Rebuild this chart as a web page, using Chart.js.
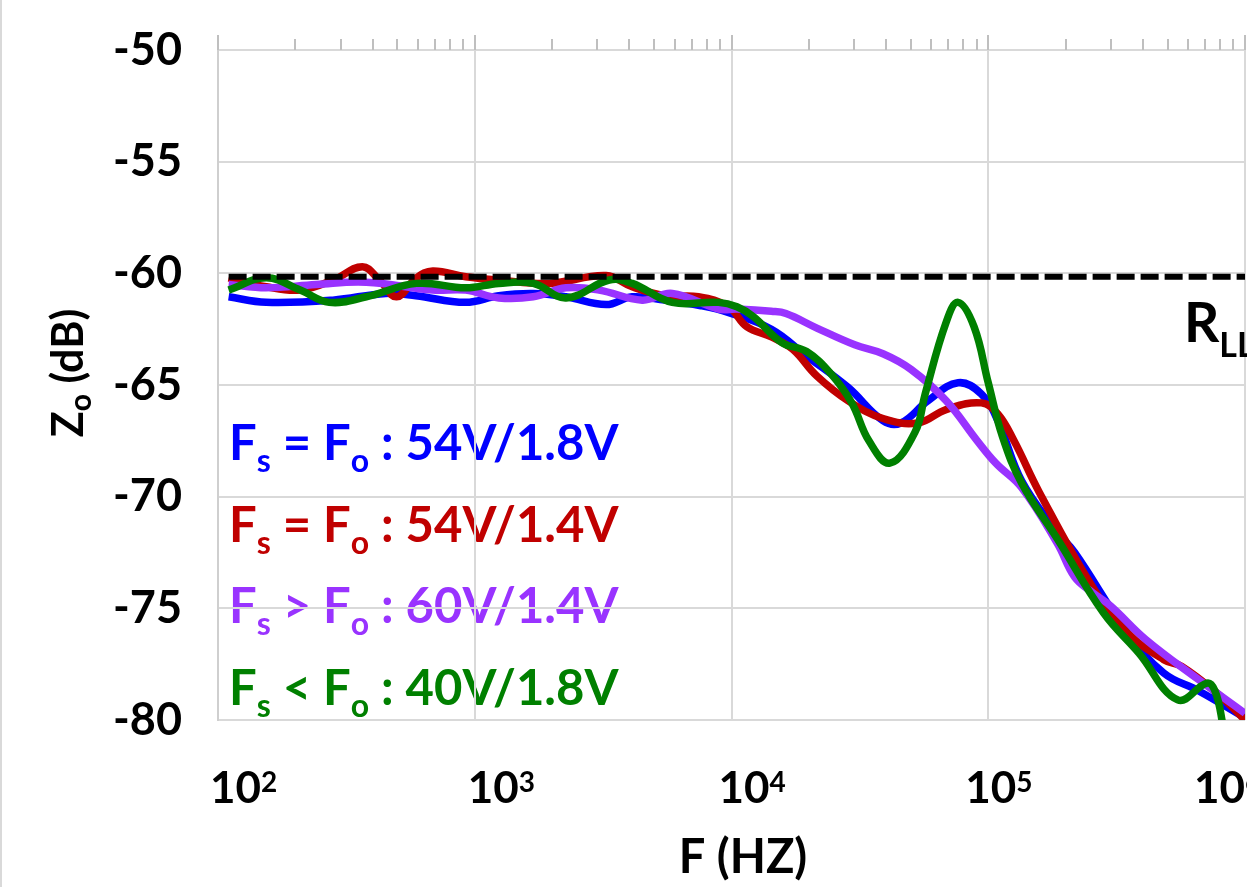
<!DOCTYPE html>
<html>
<head>
<meta charset="utf-8">
<script src="https://cdn.jsdelivr.net/npm/chart.js@4.4.0/dist/chart.umd.min.js"></script>
<style>
  html, body { margin: 0; padding: 0; background: #fff; }
  canvas { display: block; }
</style>
</head>
<body>
<canvas id="chart" width="1247" height="887"></canvas>
<script>
// frequency (Hz) / Zo (dB), one pair per curve
const blueFreq = [110, 154, 280, 450, 590, 920, 1240, 1690, 2270, 3250, 4100, 5500, 7600, 9700, 14300, 19600, 28400, 38900, 45700, 58300, 76300, 94000, 109000, 135000, 186000, 217000, 349000, 483000, 661000, 1000000];
const blueZo = [-61.05, -61.3, -61.2, -60.9, -61.0, -61.3, -61.0, -60.9, -61.05, -61.4, -61.05, -61.2, -61.45, -61.75, -62.5, -63.7, -65.1, -66.6, -66.7, -65.7, -64.9, -65.4, -66.6, -69.3, -71.6, -72.5, -76.1, -77.9, -78.7, -79.9];

const redFreq = [110, 154, 209, 281, 365, 425, 496, 593, 686, 922, 1240, 1950, 3250, 4100, 5500, 7430, 9730, 11500, 14300, 17300, 21500, 28400, 38900, 53300, 68500, 94000, 109000, 126000, 158000, 255000, 349000, 483000, 567000, 778000, 1000000];
const redZo = [-60.2, -60.6, -60.75, -60.3, -59.7, -60.3, -61.05, -60.2, -59.9, -60.15, -60.3, -60.45, -60.1, -60.6, -61.0, -61.05, -61.5, -62.4, -62.85, -63.4, -64.6, -65.7, -66.5, -66.7, -66.1, -65.8, -66.3, -67.5, -69.8, -74.05, -76.1, -77.3, -77.6, -78.8, -80];

const purpleFreq = [110, 154, 241, 378, 686, 922, 1240, 1690, 2270, 3050, 4490, 5880, 8900, 10500, 14300, 16300, 21500, 30200, 38900, 50000, 68500, 90600, 107000, 135000, 186000, 217000, 255000, 300000, 411000, 661000, 1000000];
const purpleZo = [-60.5, -60.65, -60.5, -60.4, -60.75, -60.75, -61.1, -61.05, -60.65, -60.75, -61.2, -60.9, -61.6, -61.6, -61.7, -61.8, -62.45, -63.2, -63.6, -64.3, -65.7, -67.5, -68.5, -69.6, -72.1, -73.6, -74.3, -74.9, -76.4, -78.2, -79.7];

const greenFreq = [110, 154, 209, 271, 378, 593, 922, 1240, 1690, 2270, 3340, 4100, 5880, 8900, 10500, 12200, 15700, 19600, 24400, 29400, 34300, 41400, 51900, 56800, 68500, 76300, 88100, 100000, 113500, 135000, 186000, 281000, 386000, 547000, 711000, 764000, 813000, 870000];
const greenZo = [-60.75, -60.2, -60.75, -61.3, -61.05, -60.45, -60.65, -60.45, -60.45, -61.1, -60.3, -60.45, -61.3, -61.3, -61.5, -61.95, -63.1, -63.5, -64.5, -65.8, -67.5, -68.5, -67.1, -65.4, -62.2, -61.3, -62.4, -64.9, -67.3, -69.4, -71.9, -75.2, -77.0, -79.1, -78.35, -78.7, -80, -82.5];

// R_LL limit
const rllFreq = [110, 1000000];
const rllZo = [-60.15, -60.15];

const xTickValues = [1e2, 1e3, 1e4, 1e5, 1e6];
const xTickExp = ['2', '3', '4', '5', '6'];

const legendRel = ['=', '=', '>', '<'];
const legendVolt = ['54V/1.8V', '54V/1.4V', '60V/1.4V', '40V/1.8V'];
const seriesColors = ['#0000ff', '#c00000', '#9933ff', '#008000'];

const FONT = 'Lato, "Open Sans", sans-serif';
const font = size => 'bold ' + size + 'px ' + FONT;

function pts(fs, zs) {
  return fs.map((f, i) => ({ x: f, y: zs[i] }));
}

// draw text made of pieces [text, size, dy], returns end x
function drawParts(ctx, x, y, parts) {
  parts.forEach(p => {
    ctx.font = font(p[1]);
    ctx.fillText(p[0], x, y + p[2]);
    x += ctx.measureText(p[0]).width;
  });
  return x;
}
function partsWidth(ctx, parts) {
  let w = 0;
  parts.forEach(p => { ctx.font = font(p[1]); w += ctx.measureText(p[0]).width; });
  return w;
}

const decorPlugin = {
  id: 'decor',
  beforeDraw(chart) {
    const ctx = chart.ctx;
    const ca = chart.chartArea;
    ctx.save();
    ctx.fillStyle = '#fff';
    ctx.fillRect(0, 0, chart.width, chart.height);
    ctx.fillStyle = '#d9d9d9';
    ctx.fillRect(0, 0, 2, chart.height);

    // legend text inside the plot
    ctx.textBaseline = 'alphabetic';
    ctx.textAlign = 'left';
    legendVolt.forEach((v, i) => {
      ctx.fillStyle = seriesColors[i];
      drawParts(ctx, ca.left + 11, ca.top + 410 + i * 81.7, [
        ['F', 49, 0], ['s', 32, 12], [' ' + legendRel[i] + ' F', 49, 0], ['o', 32, 12], [' : ' + v, 49, 0]
      ]);
    });
    ctx.restore();
  },
  afterDraw(chart) {
    const ctx = chart.ctx;
    const ca = chart.chartArea;
    const xs = chart.scales.x;
    ctx.save();

    // log tick marks on top edge
    ctx.strokeStyle = '#bfbfbf';
    ctx.lineWidth = 2;
    for (let d = 2; d < 6; d++) {
      for (let m = 2; m <= 9; m++) {
        const px = Math.round(xs.getPixelForValue(m * Math.pow(10, d)));
        ctx.beginPath();
        ctx.moveTo(px, ca.top - 11);
        ctx.lineTo(px, ca.top);
        ctx.stroke();
      }
    }
    xTickValues.forEach(v => {
      const px = Math.round(xs.getPixelForValue(v));
      ctx.beginPath();
      ctx.moveTo(px, ca.top - 15);
      ctx.lineTo(px, ca.top);
      ctx.stroke();
    });

    // x tick labels 10^n
    ctx.fillStyle = '#000';
    ctx.textAlign = 'left';
    ctx.textBaseline = 'alphabetic';
    const shift = [-8, -7, -13, -23, -51];
    xTickValues.forEach((v, i) => {
      const px = xs.getPixelForValue(v) + shift[i];
      drawParts(ctx, px, ca.bottom + 83, [['10', 44, 0], [xTickExp[i], 28, -11]]);
    });

    // axis titles
    ctx.font = font(47);
    ctx.textAlign = 'center';
    ctx.fillText('F (HZ)', 743, ca.bottom + 153);

    ctx.textAlign = 'left';
    const yParts = [['Z', 43, 0], ['o', 30, 8], [' (dB)', 43, 0]];
    const w = partsWidth(ctx, yParts);
    ctx.save();
    ctx.translate(83, 373 + w / 2);
    ctx.rotate(-Math.PI / 2);
    drawParts(ctx, 0, 0, yParts);
    ctx.restore();

    // R_LL label
    drawParts(ctx, 1184, 342, [['R', 55, 0], ['LL', 34, 15]]);
    ctx.restore();
  }
};

const lineStyle = (color, order) => ({
  borderColor: color,
  backgroundColor: color,
  borderWidth: 7.5,
  pointRadius: 0,
  tension: 0.4,
  fill: false,
  clip: 0,
  order: order
});

const ctx = document.getElementById('chart');
const myChart = new Chart(ctx, {
  type: 'line',
  data: {
    datasets: [
      Object.assign({ label: 'R_LL', data: pts(rllFreq, rllZo) }, lineStyle('#000', 0), { borderWidth: 6, borderDash: [18, 6], tension: 0 }),
      Object.assign({ label: 'Fs < Fo : 40V/1.8V', data: pts(greenFreq, greenZo) }, lineStyle(seriesColors[3], 1)),
      Object.assign({ label: 'Fs > Fo : 60V/1.4V', data: pts(purpleFreq, purpleZo) }, lineStyle(seriesColors[2], 2)),
      Object.assign({ label: 'Fs = Fo : 54V/1.4V', data: pts(redFreq, redZo) }, lineStyle(seriesColors[1], 3)),
      Object.assign({ label: 'Fs = Fo : 54V/1.8V', data: pts(blueFreq, blueZo) }, lineStyle(seriesColors[0], 4))
    ]
  },
  options: {
    responsive: false,
    animation: false,
    events: [],
    layout: { padding: { top: 50, right: 2, left: 0, bottom: 0 } },
    plugins: {
      legend: { display: false },
      tooltip: { enabled: false }
    },
    scales: {
      x: {
        type: 'logarithmic',
        min: 100,
        max: 1000000,
        afterBuildTicks: s => { s.ticks = xTickValues.map(v => ({ value: v })); },
        afterFit: s => { s.height = 167; },
        ticks: { display: false },
        grid: { color: '#d9d9d9', lineWidth: 2, drawTicks: false },
        border: { display: false }
      },
      y: {
        min: -80,
        max: -50,
        afterFit: s => { s.width = 218; s.paddingTop = 0; s.paddingBottom = 0; },
        ticks: {
          stepSize: 5,
          padding: 36,
          color: '#000',
          font: { family: FONT, size: 45, weight: 'bold' }
        },
        grid: { color: '#d9d9d9', lineWidth: 2, drawTicks: false },
        border: { color: '#cfcfcf', width: 2 }
      }
    }
  },
  plugins: [decorPlugin]
});
</script>
</body>
</html>
